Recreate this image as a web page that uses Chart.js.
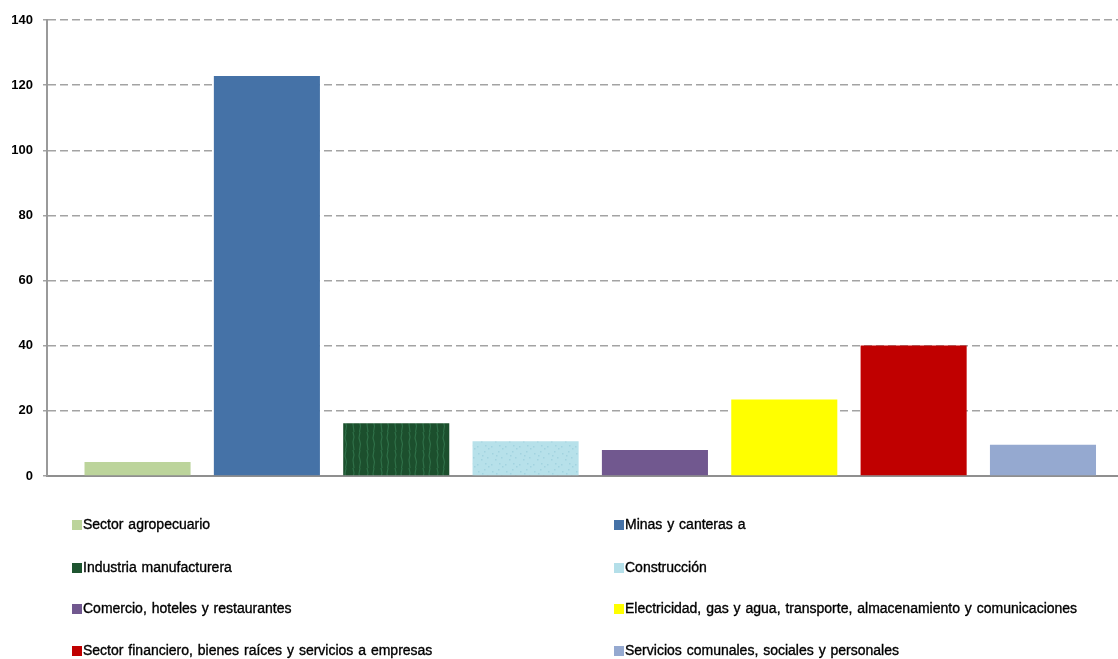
<!DOCTYPE html>
<html>
<head>
<meta charset="utf-8">
<script src="https://cdn.jsdelivr.net/npm/chart.js@4.4.1/dist/chart.umd.min.js"></script>
<style>
  html, body { margin: 0; padding: 0; background: #fff; }
  #wrap { position: relative; width: 1118px; height: 659px; }
  #c { position: absolute; left: 0; top: 0; }
  .lg { position: absolute; font-family: "Liberation Sans", Arial, sans-serif; font-size: 14px; color: #000; white-space: nowrap; line-height: 16px; word-spacing: 1px; -webkit-text-stroke: 0.35px #000; }
  .lg .bx { display: inline-block; width: 10px; height: 10px; vertical-align: -1px; margin-right: 1px; }
</style>
</head>
<body>
<div id="wrap">
  <canvas id="c" width="1118" height="659"></canvas>
  <div id="legend"></div>
</div>
<script>
const categories = [
  "Sector agropecuario",
  "Minas y canteras a",
  "Industria manufacturera",
  "Construcción",
  "Comercio, hoteles y restaurantes",
  "Electricidad, gas y agua, transporte, almacenamiento y comunicaciones",
  "Sector financiero, bienes raíces y servicios a empresas",
  "Servicios comunales, sociales y personales"
];
const values = [4.3, 122.8, 16.2, 10.7, 8.0, 23.5, 40.1, 9.6];
const colors = ["#bcd49b", "#4572a7", "#1e5530", "#b4dfe9", "#71588f", "#ffff00", "#c00000", "#95a9d0"];
const yTicks = [0, 20, 40, 60, 80, 100, 120, 140];

// texture fills (style only) for the two textured bars in the reference
function makePattern(base, accent, kind) {
  const t = document.createElement('canvas');
  t.width = 14; t.height = 18;
  const g = t.getContext('2d');
  g.fillStyle = base; g.fillRect(0, 0, 14, 18);
  g.strokeStyle = accent; g.lineWidth = 1.2;
  if (kind === 'streak') {
    g.beginPath();
    g.moveTo(3, 0); g.lineTo(4, 5); g.lineTo(3, 10); g.lineTo(4, 18);
    g.moveTo(10, 0); g.lineTo(9, 6); g.lineTo(10.5, 12); g.lineTo(9.5, 18);
    g.stroke();
  } else {
    g.fillStyle = accent;
    [[2,3],[8,1],[11,7],[5,9],[1,14],[9,13],[12,16],[6,5]].forEach(p => g.fillRect(p[0], p[1], 1.5, 1.5));
  }
  return document.getElementById('c').getContext('2d').createPattern(t, 'repeat');
}
const fills = colors.slice();
fills[2] = makePattern('#1c4f2d', '#2f7048', 'streak');
fills[3] = makePattern('#b7e1ea', '#a2d3df', 'speck');

const datasets = categories.map((name, i) => ({
  label: name,
  data: [{ x: i, y: values[i] }],
  backgroundColor: fills[i],
  borderWidth: 0,
  grouped: false,
  categoryPercentage: 0.82,
  barPercentage: 1.0
}));

new Chart(document.getElementById('c'), {
  type: 'bar',
  data: { datasets },
  options: {
    responsive: false,
    animation: false,
    events: [],
    layout: { padding: { top: 20, right: 0, bottom: 183, left: 0 } },
    plugins: { legend: { display: false }, tooltip: { enabled: false } },
    scales: {
      x: {
        type: 'linear',
        min: -0.70,
        max: 7.58,
        offset: false,
        afterBuildTicks: s => { s.ticks = categories.map((_, i) => ({ value: i })); },
        ticks: { display: false },
        grid: { display: false },
        border: { display: true, color: '#8f8f8f', width: 2 },
        afterFit: s => { s.height = 0; }
      },
      y: {
        min: 0,
        max: 140,
        afterBuildTicks: s => { s.ticks = yTicks.map(v => ({ value: v })); },
        ticks: {
          color: '#000',
          padding: 10,
          font: { family: '"Liberation Sans", Arial, sans-serif', size: 13, weight: 'bold' }
        },
        grid: {
          color: '#a3a3a3',
          lineWidth: 1.5,
          tickLength: 4,
          drawTicks: true
        },
        border: { display: true, color: '#9a9a9a', width: 2, dash: [8, 4] },
        afterFit: s => { s.width = 47; }
      }
    }
  }
});

// HTML legend in two columns
const legend = document.getElementById('legend');
const colX = [72, 614];
const rowY = [516, 559, 600, 642];
categories.forEach((name, i) => {
  const d = document.createElement('div');
  d.className = 'lg';
  d.style.left = colX[i % 2] + 'px';
  d.style.top = rowY[Math.floor(i / 2)] + 'px';
  const b = document.createElement('span');
  b.className = 'bx';
  b.style.background = colors[i];
  d.appendChild(b);
  d.appendChild(document.createTextNode(name));
  legend.appendChild(d);
});
</script>
</body>
</html>
